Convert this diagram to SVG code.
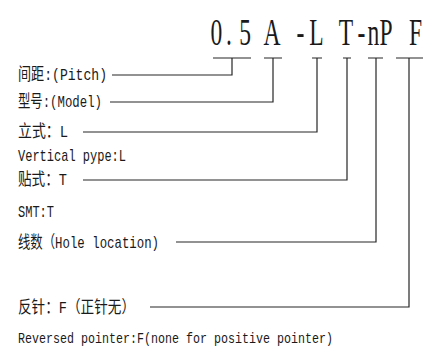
<svg xmlns="http://www.w3.org/2000/svg" width="438" height="361" viewBox="0 0 438 361">
<style>
.lbl{font-family:"Liberation Mono","Noto Sans CJK SC",monospace;font-size:17px;fill:#1a1a1a}
.code{font-family:"Liberation Serif","Noto Sans CJK SC",serif;font-size:38px;fill:#1a1a1a}
.ln{fill:none;stroke:#262626;stroke-width:1.2}
</style>
<rect width="438" height="361" fill="#ffffff"/>
<g id="code">
<text class="code" transform="scale(0.62 1)" text-anchor="middle" y="45" x="349.2 369.4 395.2 412.9 438.7 464.5 484.7 510.5 532.3 558.1 583.1 602.4 622.6 645.2 670.2">0.5 A -L T-nP F</text>
</g>
<g id="label-pitch"><text class="lbl" x="18" y="80" textLength="89" lengthAdjust="spacingAndGlyphs">间距:(Pitch)</text></g>
<g id="label-model"><text class="lbl" x="18" y="107" textLength="84" lengthAdjust="spacingAndGlyphs">型号:(Model)</text></g>
<g id="label-vertical"><text class="lbl" x="18" y="137" textLength="50" lengthAdjust="spacingAndGlyphs">立式：L</text>
<text class="lbl" x="18" y="161" textLength="108" lengthAdjust="spacingAndGlyphs">Vertical pype:L</text></g>
<g id="label-smt"><text class="lbl" x="18" y="185" textLength="49" lengthAdjust="spacingAndGlyphs">贴式：T</text>
<text class="lbl" x="18" y="217" textLength="36" lengthAdjust="spacingAndGlyphs">SMT:T</text></g>
<g id="label-hole"><text class="lbl" x="18" y="248" textLength="141" lengthAdjust="spacingAndGlyphs">线数（Hole location)</text></g>
<g id="label-reversed"><text class="lbl" x="18" y="313" textLength="117" lengthAdjust="spacingAndGlyphs">反针：F（正针无）</text>
<text class="lbl" x="18" y="343" style="font-size:15px" textLength="315" lengthAdjust="spacingAndGlyphs">Reversed pointer:F(none for positive pointer)</text></g>
<g id="connectors">
<path class="ln" d="M213 58H251M232 58V75H112"/>
<path class="ln" d="M264 58H282M273 58V102H110"/>
<path class="ln" d="M312 58H322M317 58V132H83"/>
<path class="ln" d="M343 58H351M347 58V180H83"/>
<path class="ln" d="M368 58H383M376 58V242H176"/>
<path class="ln" d="M396 58H423M409 58V307H150"/>
</g>
</svg>
